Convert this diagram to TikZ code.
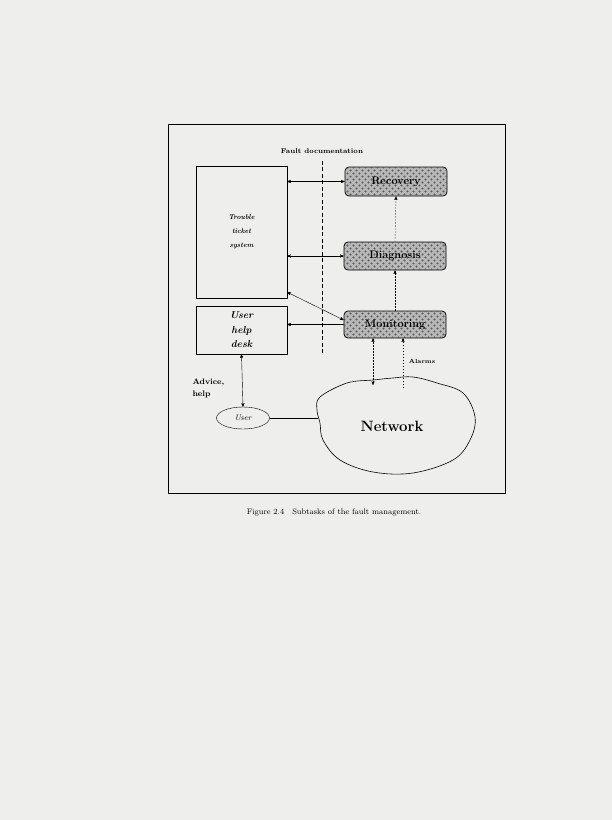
\documentclass[tikz,border=0pt]{standalone}
\usepackage[usenames,dvipsnames]{xcolor}
\usepackage{tikz}
\usetikzlibrary{shapes,arrows,patterns}

\pgfdeclarepatternformonly{taskdots}{\pgfqpoint{0pt}{0pt}}{\pgfqpoint{6pt}{6pt}}{\pgfqpoint{6pt}{6pt}}{%
  \pgfpathcircle{\pgfqpoint{1.5pt}{1.5pt}}{1.1pt}
  \pgfpathcircle{\pgfqpoint{4.5pt}{4.5pt}}{1.1pt}
  \pgfusepath{fill}}

\tikzset{
  plainbox/.style={draw,thin,inner sep=0pt},
  taskbox/.style={draw,thick,rounded corners=4bp,inner sep=0pt,minimum width=102bp,
    fill=black!28,postaction={pattern=taskdots,pattern color=black!65},
    font=\bfseries\fontsize{11}{13}\selectfont},
  dotline/.style={thin,dash pattern=on 1.2bp off 1.8bp},
  flow/.style={->,dotline},
}

\begin{document}
\begin{tikzpicture}[x=1bp,y=-1bp,>=stealth']
\definecolor{paperColor}{RGB}{238,238,236}
\fill[paperColor] (0,0) rectangle (612,820);
\draw[thick] (168,124) rectangle (505,493);
% left side boxes
\node[plainbox,minimum width=91bp,minimum height=132bp,align=center,font=\bfseries\itshape\fontsize{7}{14}\selectfont] (tts) at (241.5,232) {Trouble\\ticket\\system};
\node[plainbox,minimum width=91bp,minimum height=48bp,align=center,font=\bfseries\itshape\fontsize{10}{14.5}\selectfont] (uhd) at (241.5,330) {User\\help\\desk};
% subtasks
\node[taskbox,minimum height=29bp] (rec) at (396,181.5) {Recovery};
\node[taskbox,minimum height=28bp] (diag) at (395,256) {Diagnosis};
\node[taskbox,minimum height=27bp] (mon) at (395,324.5) {Monitoring};
% fault documentation line
\node[font=\bfseries\fontsize{7}{8}\selectfont] (fdoc) at (322,151) {Fault documentation};
\draw[dash pattern=on 4bp off 2.5bp] ([yshift=-4bp]fdoc.south) -- (fdoc.south |- uhd.south);
\draw[<->] (tts.east |- rec.west) -- (rec.west);
\draw[<->] (tts.east |- diag.west) -- (diag.west);
\draw[<->] ([yshift=6bp]tts.south east) -- ([yshift=4.5bp]mon.west);
\draw[->] (mon.west) -- (mon.west -| uhd.east);
\draw[flow] (diag.north) -- (rec.south);
\draw[flow] (mon.north) -- (diag.south);
% network and user
\draw[semithick] plot[smooth cycle,tension=0.6] coordinates {(320,397) (347,383) (373,380) (393,378) (413,377) (437,383) (463,393) (475,417) (470,440) (453,460) (413,473) (373,472) (340,460) (323,440) (320,423) (317,410)};
\node[font=\bfseries\fontsize{15}{17}\selectfont] (net) at (392,426) {Network};
\coordinate (netA) at (373,385);
\coordinate (netB) at (403,388);
\coordinate (netW) at (318,418);
\draw[<->,dotline] (mon.south -| netA) -- (netA);
\draw[flow] (netB) -- (mon.south -| netB);
\node[font=\bfseries\fontsize{6}{7}\selectfont] (alarms) at (422,361) {Alarms};
\node[draw,thin,ellipse,minimum width=53bp,minimum height=22bp,inner sep=0pt,font=\itshape\fontsize{8}{9}\selectfont] (user) at (243,418) {User};
\draw[<->] (uhd.south) -- (user.north);
\draw (user.east) -- (netW);
\node[align=left,anchor=west,font=\bfseries\fontsize{8}{12}\selectfont] (advice) at (189,388) {Advice,\\help};
% caption
\node[font=\fontsize{8}{9}\selectfont] (caption) at (334,513) {Figure 2.4\quad Subtasks of the fault management.};
\end{tikzpicture}
\end{document}
